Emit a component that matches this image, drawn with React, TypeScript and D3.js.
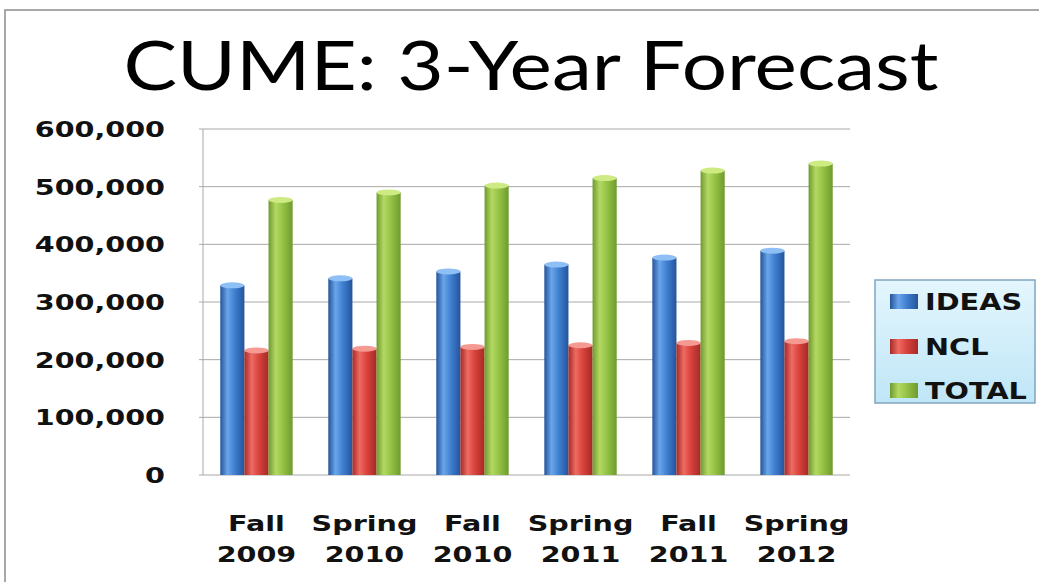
import React from "react";
import * as d3 from "d3";

const categories = ["Fall 2009", "Spring 2010", "Fall 2010", "Spring 2011", "Fall 2011", "Spring 2012"];
const seriesNames = ["IDEAS", "NCL", "TOTAL"];
const ideas = [329000, 341000, 353000, 365000, 377000, 389000];
const ncl = [216000, 219000, 222000, 225000, 229000, 232000];
const total = [477000, 490000, 502000, 515000, 528000, 540000];
const yTicks = [0, 100000, 200000, 300000, 400000, 500000, 600000];

const W = 1039;
const H = 582;
const plot = { left: 203, right: 850, top: 129, bottom: 475 };
const stretch = 1.3; // the reference text is drawn wide

const colors = [
  { dark: "#24549a", mid: "#3f7fd0", light: "#6aa5ea", cap: "#8fc0f5" },
  { dark: "#a52a26", mid: "#d8423c", light: "#ee6b62", cap: "#f59a92" },
  { dark: "#6f9a2e", mid: "#94c245", light: "#b3d962", cap: "#cdea83" },
];

const font = "'DejaVu Sans', Verdana, sans-serif";

const App = () => {
  const values = [ideas, ncl, total];

  const x0 = d3.scaleBand().domain(categories).range([plot.left, plot.right]).paddingInner(0.33).paddingOuter(0.16);
  const x1 = d3.scaleBand().domain(seriesNames).range([0, x0.bandwidth()]);
  const y = d3.scaleLinear().domain([0, 600000]).range([plot.bottom, plot.top]);
  const fmt = d3.format(",");

  return (
    <svg width={W} height={H} style={{ position: "absolute", left: 0, top: 0, background: "#fff" }}>
      <defs>
        {colors.map((c, i) => (
          <linearGradient key={i} id={`bar${i}`} x1="0" x2="1" y1="0" y2="0">
            <stop offset="0%" stopColor={c.dark} />
            <stop offset="30%" stopColor={c.light} />
            <stop offset="60%" stopColor={c.mid} />
            <stop offset="100%" stopColor={c.dark} />
          </linearGradient>
        ))}
        <linearGradient id="legendBg" x1="0" x2="0" y1="0" y2="1">
          <stop offset="0%" stopColor="#e4f6fd" />
          <stop offset="100%" stopColor="#bfe6f7" />
        </linearGradient>
      </defs>

      {/* outer frame */}
      <rect x={5} y={10} width={W} height={H} fill="none" stroke="#8c8c8c" strokeWidth={1.5} />

      <text
        x={531}
        y={90}
        textAnchor="middle"
        fontFamily="Lato, 'Open Sans', sans-serif"
        fontSize={68}
        textLength={815}
        lengthAdjust="spacingAndGlyphs"
        fill="#000"
      >
        CUME: 3-Year Forecast
      </text>

      {/* grid */}
      {yTicks.map((t) => (
        <g key={t}>
          <line x1={plot.left - 4} x2={plot.right} y1={y(t)} y2={y(t)} stroke="#a8a8a8" strokeWidth={1} />
          <text
            transform={`translate(165,${y(t) + 8}) scale(${stretch},1)`}
            textAnchor="end"
            fontFamily={font}
            fontWeight="bold"
            fontSize={22}
            fill="#111"
          >
            {fmt(t)}
          </text>
        </g>
      ))}
      <line x1={plot.left} x2={plot.left} y1={plot.top} y2={plot.bottom} stroke="#a8a8a8" />

      {/* bars */}
      {categories.map((c, ci) => (
        <g key={c} transform={`translate(${x0(c)},0)`}>
          {seriesNames.map((s, si) => {
            const v = values[si][ci];
            const bx = x1(s)!;
            const bw = x1.bandwidth();
            const top = y(v);
            return (
              <g key={s}>
                <rect x={bx} y={top} width={bw} height={plot.bottom - top} fill={`url(#bar${si})`} />
                <ellipse cx={bx + bw / 2} cy={top} rx={bw / 2} ry={3} fill={colors[si].cap} />
              </g>
            );
          })}
        </g>
      ))}

      {/* x labels */}
      {categories.map((c) => {
        const [a, b] = c.split(" ");
        const cx = x0(c)! + x0.bandwidth() / 2;
        return (
          <g key={c} transform={`translate(${cx},0) scale(${stretch},1)`}>
            <text textAnchor="middle" fontFamily={font} fontWeight="bold" fontSize={22} fill="#111">
              <tspan x={0} y={531}>{a}</tspan>
              <tspan x={0} y={562}>{b}</tspan>
            </text>
          </g>
        );
      })}

      {/* legend */}
      <rect x={875} y={280} width={160} height={123} fill="url(#legendBg)" stroke="#7fa6bf" strokeWidth={1.5} />
      {seriesNames.map((s, i) => {
        const ly = [301, 346, 390][i];
        return (
          <g key={s}>
            <rect x={890} y={ly - 7} width={28} height={15} fill={`url(#bar${i})`} />
            <text
              transform={`translate(925,${ly + 9}) scale(1.25,1)`}
              fontFamily={font}
              fontWeight="bold"
              fontSize={23}
              fill="#111"
            >
              {s}
            </text>
          </g>
        );
      })}
    </svg>
  );
};

export default App;
